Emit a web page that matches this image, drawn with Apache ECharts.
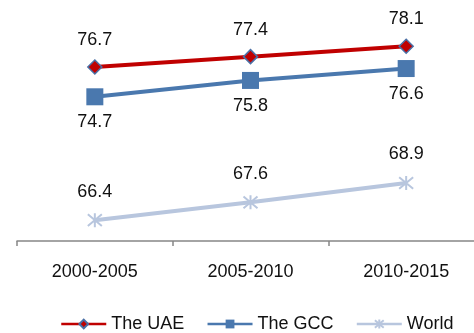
<!DOCTYPE html>
<html>
<head>
<meta charset="utf-8">
<script src="https://cdn.jsdelivr.net/npm/echarts@6/dist/echarts.min.js"></script>
<style>
  html, body { margin: 0; padding: 0; background: #fff; }
  #chart { width: 474px; height: 333px; }
</style>
</head>
<body>
<div id="chart"></div>
<script>
// Life expectancy by period
const periods = ['2000-2005', '2005-2010', '2010-2015'];
const uae = [76.7, 77.4, 78.1];
const gcc = [74.7, 75.8, 76.6];
const world = [66.4, 67.6, 68.9];

const FONT = '"Liberation Sans", Arial, sans-serif';
// asterisk-style marker (an X with a vertical stroke)
const starPath = 'path://M0,0 L10,10 M10,0 L0,10 M5,-1 L5,11';

const chart = echarts.init(document.getElementById('chart'));
chart.setOption({
  animation: false,
  grid: { left: 17, top: 18, width: 467, bottom: 92, containLabel: false, outerBoundsMode: 'none' },
  xAxis: {
    type: 'category',
    data: periods,
    boundaryGap: true,
    axisLine: { lineStyle: { color: '#878787', width: 1.5 } },
    axisTick: { show: true, length: 5, lineStyle: { color: '#878787', width: 1.5 } },
    axisLabel: { color: '#111', fontSize: 18, fontFamily: FONT, margin: 22 }
  },
  yAxis: {
    type: 'value',
    min: 65,
    max: 80,
    show: false,
    splitLine: { show: false }
  },
  legend: {
    top: 310,
    left: 55,
    itemWidth: 45,
    itemHeight: 11,
    itemGap: 22,
    lineStyle: { width: 2.5 },
    textStyle: { color: '#111', fontSize: 18, fontFamily: FONT },
    data: ['The UAE', 'The GCC', 'World']
  },
  series: [
    {
      name: 'The UAE',
      type: 'line',
      data: uae,
      symbol: 'diamond',
      symbolSize: 14,
      lineStyle: { color: '#C00000', width: 4 },
      itemStyle: { color: '#C00000', borderColor: '#4A6FA5', borderWidth: 1.5 },
      label: { show: true, position: 'top', distance: 10, color: '#111', fontSize: 18, fontFamily: FONT }
    },
    {
      name: 'The GCC',
      type: 'line',
      data: gcc,
      symbol: 'rect',
      symbolSize: 17,
      lineStyle: { color: '#4A78AE', width: 4 },
      itemStyle: { color: '#4A78AE' },
      label: { show: true, position: 'bottom', distance: 8, color: '#111', fontSize: 18, fontFamily: FONT }
    },
    {
      name: 'World',
      type: 'line',
      data: world,
      symbol: starPath,
      symbolSize: 14,
      lineStyle: { color: '#B8C6DE', width: 4 },
      itemStyle: { color: 'none', borderColor: '#B8C6DE', borderWidth: 2 },
      label: { show: true, position: 'top', distance: 10, color: '#111', fontSize: 18, fontFamily: FONT }
    }
  ]
});
</script>
</body>
</html>
